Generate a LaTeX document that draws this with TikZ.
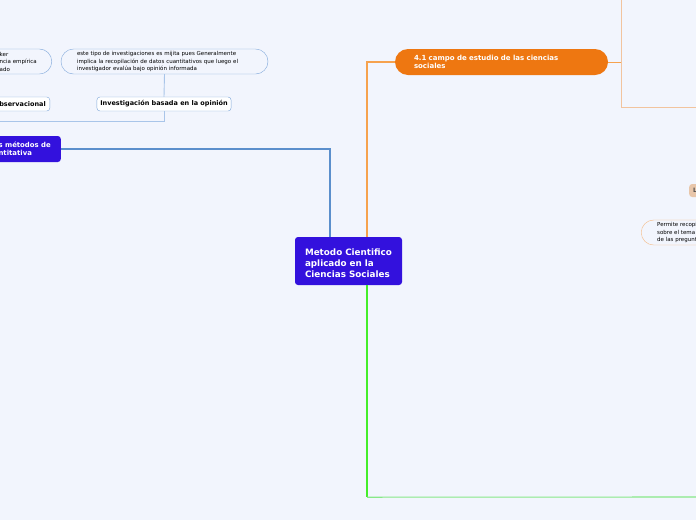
\documentclass[tikz,border=0pt]{standalone}
\usepackage{fontspec}
\setmainfont{DejaVu Sans}
\usepackage{tikz}
\usetikzlibrary{positioning}
\definecolor{bgpaper}{HTML}{F2F5FD}
\definecolor{topicblue}{HTML}{3311DD}
\definecolor{topicorange}{HTML}{EE7711}
\definecolor{linkblue}{HTML}{5B8FCC}
\definecolor{paleblue}{HTML}{A9C5E9}
\definecolor{boxblue}{HTML}{80A8DA}
\definecolor{linkorange}{HTML}{F6A24E}
\definecolor{paleorange}{HTML}{F2C49E}
\definecolor{edgeorange}{HTML}{F5BA84}
\definecolor{peach}{HTML}{E8C6AA}
\definecolor{linkgreen}{HTML}{44EE2A}
\definecolor{palegreen}{HTML}{88E888}

\begin{document}
\begin{tikzpicture}[
    x=1pt, y=-1pt,
    topic/.style={rectangle, rounded corners=3pt, fill=topicblue, text=white, align=left, inner ysep=0pt, font=\fontsize{8.8}{11}\selectfont\bfseries},
    subtopic/.style={topic, font=\fontsize{6.9}{8}\selectfont\bfseries, minimum height=26pt},
    pill/.style={rectangle, rounded corners=13pt, fill=topicorange, text=white, align=left, inner ysep=0pt, minimum height=26pt, font=\fontsize{7}{8.2}\selectfont\bfseries},
    note/.style={rectangle, rounded corners=12.5pt, draw=boxblue, fill=bgpaper, align=left, inner ysep=0pt, minimum height=25pt, font=\fontsize{5.5}{7.5}\selectfont},
    tag/.style={rectangle, rounded corners=3pt, draw=boxblue, fill=white, inner ysep=0pt, minimum height=14pt, font=\fontsize{6.5}{7}\selectfont\bfseries},
    link/.style={line width=1.1pt},
    thin link/.style={line width=0.9pt}
]

% paper
\fill[bgpaper] (0,0) rectangle (696,520);
\useasboundingbox (0,0) rectangle (696,520);
\clip (0,0) rectangle (696,520);

% Central topic
\node[topic, text width=87pt, inner xsep=10pt, minimum height=48pt] (central) at (348.5,261) {\rule{0pt}{11pt}Metodo Cientifico\\aplicado en la\\Ciencias Sociales};

% Left branch
\node[subtopic, inner xsep=10pt, anchor=east] (quant) at (61,149) {s métodos de\\ntitativa};

\node[note, text width=175pt, inner xsep=16pt] (opinionnote) at (164.5,61.5) {este tipo de investigaciones es mijita pues Generalmente\\implica la recopilación de datos cuantitativos que luego el\\investigador evalúa bajo opinión informada};
\node[note, inner xsep=15pt, anchor=east] (empirnote) at (52,61.5) {ker\\ncia empírica\\ado};

\node[tag, minimum width=134pt] (opinion) at (164,104) {Investigación basada en la opinión};
\node[tag, inner xsep=4pt, anchor=east] (observ) at (50,104) {bservacional};

\coordinate (quantout) at (-5,121);

\draw[link, linkblue] ([xshift=-18.5pt]central.north) |- (quant.east);
\draw[thin link, paleblue] (opinionnote.south) -- (opinion.north);
\draw[thin link, paleblue] (opinion.south) |- (quantout);

% Top right branch
\node[pill, text width=175pt, inner xsep=19pt] (field) at (501.5,62) {4.1 campo de estudio de las ciencias\\sociales};

\coordinate (fieldtop) at (621,-5);
\coordinate (fieldout) at (700,107);

\draw[link, linkorange] ([xshift=18.5pt]central.north) |- (field.west);
\draw[thin link, linkorange] (field.east) -- (field.east -| fieldtop);
\draw[thin link, paleorange] (fieldtop) |- (fieldout);

\node[rectangle, rounded corners=3pt, fill=peach, inner ysep=0pt, minimum height=13pt, inner xsep=4pt, anchor=west, font=\fontsize{6}{7}\selectfont\bfseries, text=black!70] (lnode) at (689,190.5) {L};
\node[note, draw=edgeorange, inner xsep=16pt, anchor=west] (collect) at (641,232.5) {Permite recopi\\sobre el tema\\de las pregunt};

% Bottom branch
\coordinate (greenout) at (700,497);

\draw[link, linkgreen] ([xshift=18.5pt]central.south) -- ++(0,212) coordinate (gcorner);
\draw[link, palegreen] (gcorner) -- (greenout);

\end{tikzpicture}
\end{document}
